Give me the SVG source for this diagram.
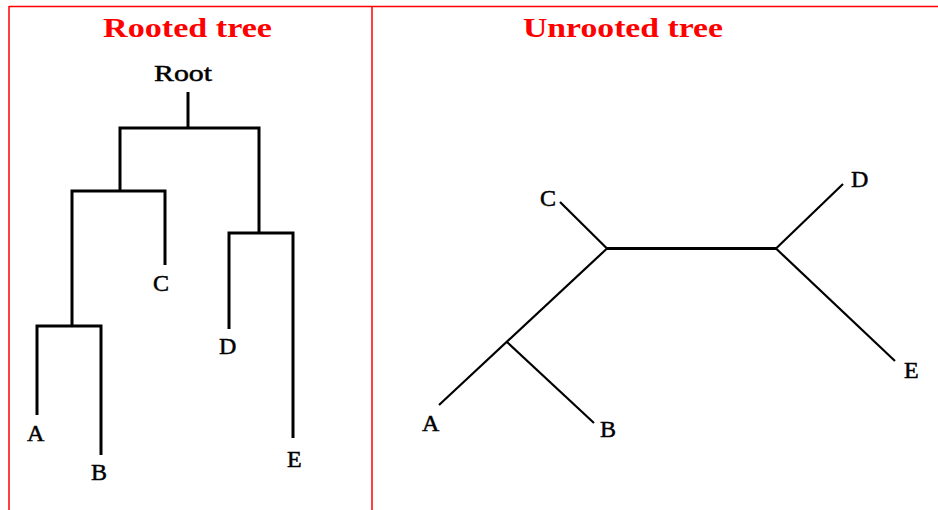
<svg xmlns="http://www.w3.org/2000/svg" width="938" height="510" viewBox="0 0 938 510">
<style>
.frame{stroke:#ff0000;stroke-width:1.5;fill:none}
.title{font-family:"Liberation Serif",serif;font-weight:bold;font-size:27px;fill:#ff0000}
.lbl{font-family:"Liberation Serif",serif;font-size:24px;fill:#000;stroke:#000;stroke-width:0.5}
.rt{stroke:#000;stroke-width:3;fill:none;stroke-linejoin:miter}
.ur{stroke:#000;stroke-width:2.2;fill:none}
</style>
<rect width="938" height="510" fill="#fff"/>
<g id="frame">
<line class="frame" x1="9" y1="6.5" x2="938" y2="6.5"/>
<line class="frame" x1="9" y1="6" x2="9" y2="510"/>
<line class="frame" x1="372" y1="6" x2="372" y2="510"/>
</g>
<g id="titles">
<text class="title" x="103" y="37" textLength="169" lengthAdjust="spacingAndGlyphs">Rooted tree</text>
<text class="title" x="523" y="37" textLength="200" lengthAdjust="spacingAndGlyphs">Unrooted tree</text>
</g>
<g id="connectors">
<g id="rooted-edges">
<path class="rt" d="M188 92 V128"/>
<path class="rt" d="M120 191 V128 H259 V233"/>
<path class="rt" d="M72 326 V191 H165 V265"/>
<path class="rt" d="M37 415 V326 H101 V455"/>
<path class="rt" d="M229 329 V233 H293 V438"/>
</g>
<g id="unrooted-edges">
<line class="ur" x1="607" y1="248.5" x2="776" y2="248.5" style="stroke-width:3"/>
<line class="ur" x1="607" y1="248.5" x2="560" y2="202"/>
<line class="ur" x1="607" y1="248.5" x2="439" y2="405"/>
<line class="ur" x1="507" y1="342" x2="594" y2="423"/>
<line class="ur" x1="776" y1="248.5" x2="843" y2="184"/>
<line class="ur" x1="776" y1="248.5" x2="895" y2="361"/>
</g>
</g>
<g id="node-root"><text class="lbl" x="154" y="81" textLength="58" lengthAdjust="spacingAndGlyphs">Root</text></g>
<g id="node-rA"><text class="lbl" x="27" y="441">A</text></g>
<g id="node-rB"><text class="lbl" x="91" y="480">B</text></g>
<g id="node-rC"><text class="lbl" x="153" y="291">C</text></g>
<g id="node-rD"><text class="lbl" x="219" y="354">D</text></g>
<g id="node-rE"><text class="lbl" x="287" y="467">E</text></g>
<g id="node-uA"><text class="lbl" x="422" y="431">A</text></g>
<g id="node-uB"><text class="lbl" x="600" y="437">B</text></g>
<g id="node-uC"><text class="lbl" x="540" y="206">C</text></g>
<g id="node-uD"><text class="lbl" x="851" y="187">D</text></g>
<g id="node-uE"><text class="lbl" x="904" y="378">E</text></g>
</svg>
